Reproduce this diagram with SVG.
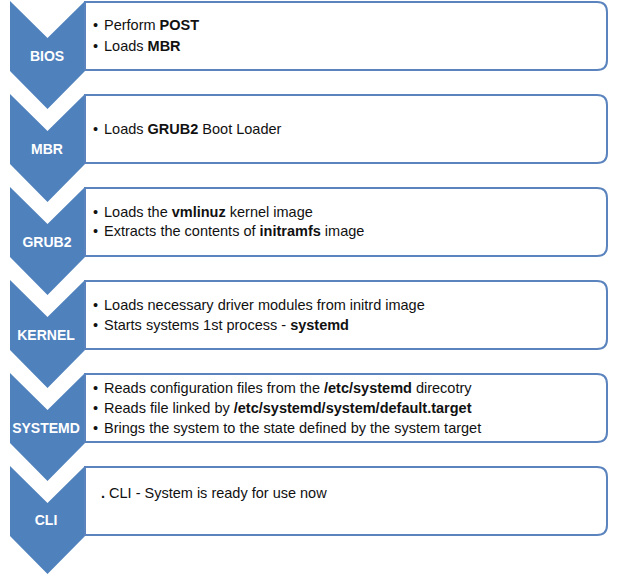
<svg xmlns="http://www.w3.org/2000/svg" width="630" height="581" viewBox="0 0 630 581">
<defs>
<style>
.chev{fill:#4F81BD;}
.box{fill:#FFFFFF;stroke:#5B84BE;stroke-width:2;}
.lbl{font-family:"Liberation Sans",Arial,sans-serif;font-weight:bold;font-size:14px;fill:#FFFFFF;text-anchor:middle;}
.txt{font-family:"Liberation Sans",Arial,sans-serif;font-size:14.5px;fill:#111111;}
.b{font-weight:bold;}
</style>
<path id="chevShape" d="M10,0 L47.5,37 L85,0 L85,70 L47.5,108 L10,70 Z"/>
<path id="boxShape" d="M85,0 H597 Q607,0 607,10 V58 Q607,68 597,68 H85 Z"/>
</defs>
<rect width="630" height="581" fill="#FFFFFF"/>
<g id="connectors"></g>

<g id="node-bios" transform="translate(0,1)">
<use href="#chevShape" class="chev"/>
<use href="#boxShape" class="box" transform="translate(0,1)"/>
<text class="lbl" x="47" y="60">BIOS</text>
<text class="txt" x="93" y="29">•</text>
<text class="txt" x="104" y="29">Perform <tspan class="b">POST</tspan></text>
<text class="txt" x="93" y="50">•</text>
<text class="txt" x="104" y="50">Loads <tspan class="b">MBR</tspan></text>
</g>

<g id="node-mbr" transform="translate(0,94)">
<use href="#chevShape" class="chev"/>
<use href="#boxShape" class="box" transform="translate(0,1)"/>
<text class="lbl" x="47" y="60">MBR</text>
<text class="txt" x="93" y="40">•</text>
<text class="txt" x="104" y="40">Loads <tspan class="b">GRUB2</tspan> Boot Loader</text>
</g>

<g id="node-grub2" transform="translate(0,187)">
<use href="#chevShape" class="chev"/>
<use href="#boxShape" class="box" transform="translate(0,1)"/>
<text class="lbl" x="47" y="60">GRUB2</text>
<text class="txt" x="93" y="30">•</text>
<text class="txt" x="104" y="30">Loads the <tspan class="b">vmlinuz</tspan> kernel image</text>
<text class="txt" x="93" y="49">•</text>
<text class="txt" x="104" y="49">Extracts the contents of <tspan class="b">initramfs</tspan> image</text>
</g>

<g id="node-kernel" transform="translate(0,280)">
<use href="#chevShape" class="chev"/>
<use href="#boxShape" class="box" transform="translate(0,1)"/>
<text class="lbl" x="46" y="60">KERNEL</text>
<text class="txt" x="93" y="30">•</text>
<text class="txt" x="104" y="30">Loads necessary driver modules from initrd image</text>
<text class="txt" x="93" y="50">•</text>
<text class="txt" x="104" y="50">Starts systems 1st process - <tspan class="b">systemd</tspan></text>
</g>

<g id="node-systemd" transform="translate(0,373)">
<use href="#chevShape" class="chev"/>
<use href="#boxShape" class="box" transform="translate(0,1)"/>
<text class="lbl" x="46" y="60">SYSTEMD</text>
<text class="txt" x="93" y="20">•</text>
<text class="txt" x="104" y="20">Reads configuration files from the <tspan class="b">/etc/systemd</tspan> direcotry</text>
<text class="txt" x="93" y="40">•</text>
<text class="txt" x="104" y="40">Reads file linked by <tspan class="b">/etc/systemd/system/default.target</tspan></text>
<text class="txt" x="93" y="60">•</text>
<text class="txt" x="104" y="60">Brings the system to the state defined by the system target</text>
</g>

<g id="node-cli" transform="translate(0,466)">
<use href="#chevShape" class="chev"/>
<use href="#boxShape" class="box" transform="translate(0,1)"/>
<text class="lbl" x="46" y="59">CLI</text>
<text class="txt" x="101" y="32"><tspan class="b">.</tspan> CLI - System is ready for use now</text>
</g>
</svg>
